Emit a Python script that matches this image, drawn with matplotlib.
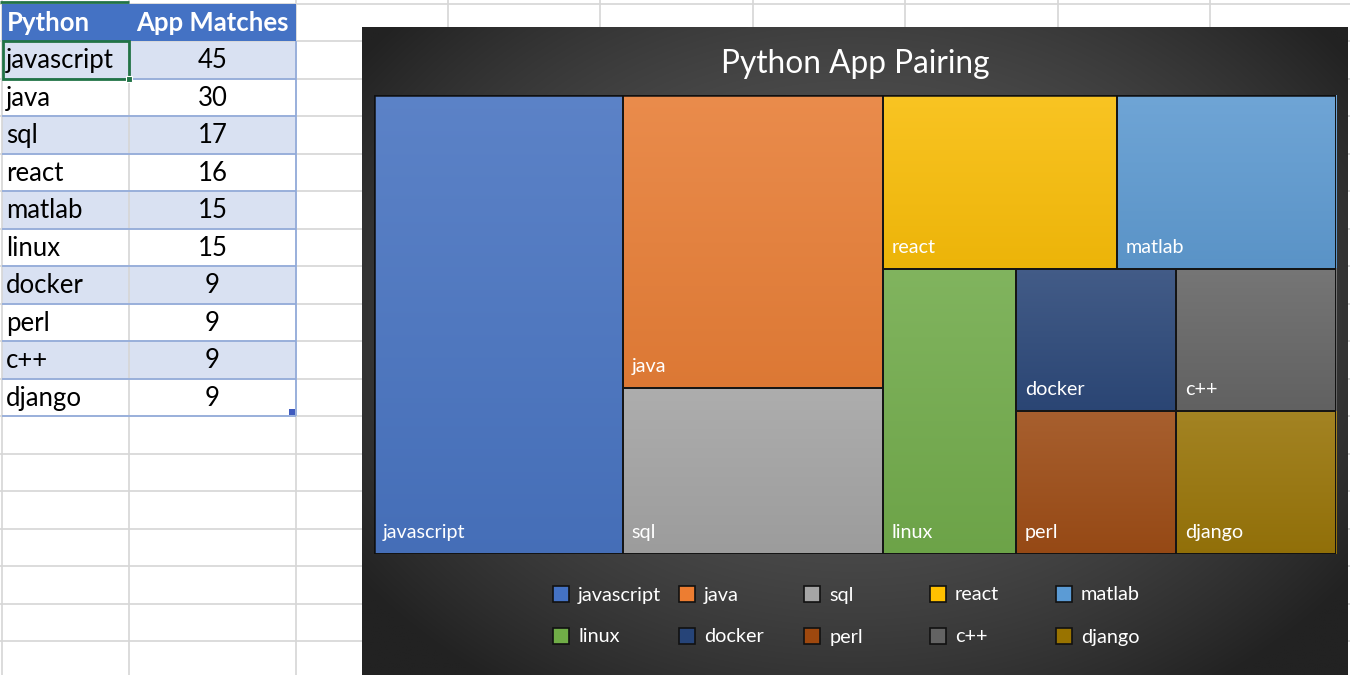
import numpy as np
import matplotlib
matplotlib.use("Agg")
import matplotlib.pyplot as plt
from matplotlib.patches import Rectangle
from matplotlib.colors import to_rgb

plt.rcParams['font.family'] = ['Lato', 'DejaVu Sans']

# ---------------- data ----------------
categories = ['javascript', 'java', 'sql', 'react', 'matlab',
              'linux', 'docker', 'perl', 'c++', 'django']
matches = [45, 30, 17, 16, 15, 15, 9, 9, 9, 9]
colors = ['#4472C4', '#ED7D31', '#A5A5A5', '#FFC000', '#5B9BD5',
          '#70AD47', '#264478', '#9E480E', '#636363', '#997300']
header = ['Python', 'App Matches']
title = 'Python App Pairing'

FW, FH = 1350, 675
fig = plt.figure(figsize=(FW / 100, FH / 100), dpi=100)
fig.patch.set_facecolor('white')

# ---------------- spreadsheet layer ----------------
sh = fig.add_axes([0, 0, 1, 1])
sh.set_xlim(0, FW)
sh.set_ylim(FH, 0)
sh.axis('off')

col_edges = [2, 129, 296, 448, 600, 753, 905, 1058, 1210]
row0, row_h = 3.5, 37.5
grid_c = '#D6D6D6'
sh.vlines(col_edges, 0, FH, color=grid_c, lw=1.2, zorder=2)
nrows = int((FH - row0) / row_h) + 1
sh.hlines([row0 + k * row_h for k in range(nrows + 1)], 0, FW,
          color=grid_c, lw=1.2, zorder=2)
sh.hlines(1.5, 0, col_edges[1], color='#217346', lw=2, zorder=3)

tl, tm, tr = col_edges[0], col_edges[1], col_edges[2]
fs_table = 18.5
# header
sh.add_patch(Rectangle((tl, row0), tr - tl, row_h, fc='#4472C4', ec='none', zorder=4))
sh.text(tl + 5, row0 + row_h / 2 + 1, header[0], color='white', fontweight='bold',
        fontsize=fs_table, va='center', ha='left', zorder=5)
sh.text((tm + tr) / 2, row0 + row_h / 2 + 1, header[1], color='white', fontweight='bold',
        fontsize=fs_table, va='center', ha='center', zorder=5)
for i, (c, v) in enumerate(zip(categories, matches)):
    y = row0 + (i + 1) * row_h
    if i % 2 == 0:
        sh.add_patch(Rectangle((tl, y), tr - tl, row_h, fc='#D9E1F2', ec='none', zorder=1))
    sh.hlines(y + row_h, tl, tr, color='#8EA9DB', lw=1.2, zorder=3)
    sh.text(tl + 4, y + row_h / 2 + 1, c, color='black', fontsize=fs_table,
            va='center', ha='left', zorder=5)
    sh.text((tm + tr) / 2, y + row_h / 2 + 1, str(v), color='black', fontsize=fs_table,
            va='center', ha='center', zorder=5)
tbl_bot = row0 + (len(categories) + 1) * row_h
sh.vlines(tr, row0 + row_h, tbl_bot, color='#8EA9DB', lw=1.2, zorder=3)
# selected cell
sh.add_patch(Rectangle((tl + 1, row0 + row_h), tm - tl - 1, row_h, fill=False,
                       ec='#217346', lw=2, zorder=6))
sh.add_patch(Rectangle((tm - 3, row0 + 2 * row_h - 3), 6, 6, fc='#217346', ec='white',
                       lw=0.8, zorder=7))
# table resize handle
sh.add_patch(Rectangle((tr - 7, tbl_bot - 7), 6, 6, fc='#3F5BBF', ec='none', zorder=7))

# ---------------- chart panel ----------------
cx0, cy0, cx1 = 362, 27, 1348
cp = fig.add_axes([cx0 / FW, 0, (cx1 - cx0) / FW, (FH - cy0) / FH])
cp.axis('off')
gy, gx = np.mgrid[0:1:300j, 0:1:500j]
d = np.sqrt(((gx - 0.5) / 0.62) ** 2 + ((gy - 0.45) / 0.7) ** 2)
d = np.clip(d, 0, 1) ** 1.8
c_in = np.array(to_rgb('#585858'))
c_out = np.array(to_rgb('#222222'))
grad = c_in[None, None, :] * (1 - d[..., None]) + c_out[None, None, :] * d[..., None]
cp.imshow(grad, extent=(0, 1, 0, 1), aspect='auto', interpolation='bilinear')
cp.set_xlim(0, 1)
cp.set_ylim(0, 1)


# ---------------- treemap layout (squarified with hysteresis) ----------------
def worst(row, length):
    s = sum(row)
    t = s / length
    return max(max(t / (a / t), (a / t) / t) for a in row)


def squarify(areas, x, y, w, h, gain=0.85):
    rects = []
    i = 0
    while i < len(areas):
        short = min(w, h)
        row = [areas[i]]
        i += 1
        while i < len(areas) and worst(row + [areas[i]], short) < gain * worst(row, short):
            row.append(areas[i])
            i += 1
        t = sum(row) / short
        if w >= h:
            yy = y
            for a in row:
                rects.append((x, yy, t, a / t))
                yy += a / t
            x += t
            w -= t
        else:
            xx = x
            for a in row:
                rects.append((xx, y, a / t, t))
                xx += a / t
            y += t
            h -= t
    return rects


tx0, ty0, tx1, ty1 = 374, 95, 1336, 554
ta = fig.add_axes([tx0 / FW, 1 - ty1 / FH, (tx1 - tx0) / FW, (ty1 - ty0) / FH])
ta.axis('off')
W, H = tx1 - tx0, ty1 - ty0
total = float(sum(matches))
areas = [v / total * W * H for v in matches]
rects = squarify(areas, 0, 0, W, H)


def mix(c, other, f):
    c = np.array(to_rgb(c))
    return c * (1 - f) + np.array(other) * f


for (x, y, w, h), c, lab in zip(rects, colors, categories):
    top = mix(c, (0.85, 0.85, 0.85), 0.16)
    bot = mix(mix(c, (0.6, 0.6, 0.6), 0.06), (0, 0, 0), 0.05)
    f = np.linspace(0, 1, 64)[:, None, None]
    img = top[None, None, :] * (1 - f) + bot[None, None, :] * f
    img = np.repeat(img, 2, axis=1)
    ta.imshow(img, extent=(x, x + w, y + h, y), aspect='auto',
              interpolation='bilinear', zorder=1)
    ta.add_patch(Rectangle((x, y), w, h, fill=False, ec='#151515', lw=1.3, zorder=2))
    ta.annotate(lab, xy=(x, y + h), xytext=(6.5, 11.5), textcoords='offset points',
                color='white', fontsize=14.2, va='baseline', ha='left', zorder=3)
ta.add_patch(Rectangle((0, 0), W, H, fill=False, ec='#101010', lw=1.8, zorder=4))
ta.set_xlim(0, W)
ta.set_ylim(H, 0)

# ---------------- overlay: title + legend ----------------
ov = fig.add_axes([0, 0, 1, 1])
ov.set_xlim(0, FW)
ov.set_ylim(FH, 0)
ov.axis('off')
ov.patch.set_alpha(0)
ov.text((cx0 + cx1) / 2, 64, title, color='white', fontsize=22.8,
        ha='center', va='center')

leg_x0, leg_dx = 553, 125.7
leg_rows = [594, 636]
sw = 16
for k, (lab, c) in enumerate(zip(categories, colors)):
    r, j = divmod(k, 5)
    lx = leg_x0 + j * leg_dx
    ly = leg_rows[r]
    ov.add_patch(Rectangle((lx, ly - sw / 2), sw, sw, fc=c, ec='#111111', lw=1.2))
    ov.text(lx + sw + 9, ly + 1, lab, color='white', fontsize=14.3, ha='left', va='center')

fig.savefig('out.png', dpi=100)
